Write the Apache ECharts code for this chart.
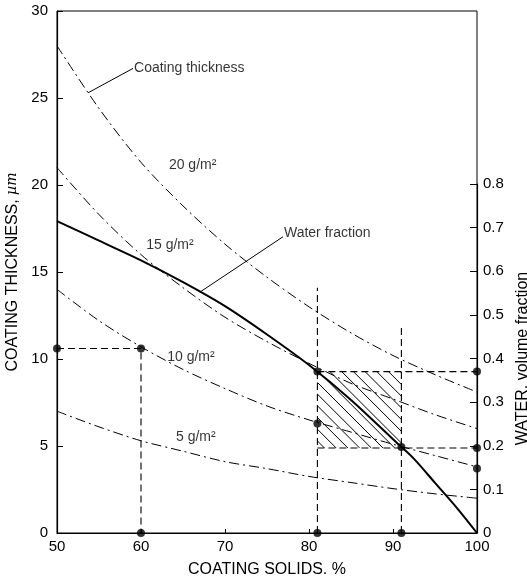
<!DOCTYPE html>
<html><head><meta charset="utf-8">
<script src="https://cdn.jsdelivr.net/npm/echarts@6/dist/echarts.min.js"></script>
<style>html,body{margin:0;padding:0;background:#fff}#c{width:527px;height:582px}</style>
</head><body><div id="c"></div>
<script>
// ---- data ----
const solids = [50, 55, 60, 65, 70, 75, 80, 85, 90, 95, 100];
const thick20 = [28, 24.4, 21.3, 18.8, 16.6, 14.7, 13.0, 11.5, 10.2, 9.1, 8.1];
const thick15 = [21, 18.3, 16.0, 14.1, 12.4, 11.0, 9.75, 8.6, 7.7, 6.8, 6.0];
const thick10 = [14, 12.2, 10.7, 9.4, 8.3, 7.3, 6.5, 5.8, 5.1, 4.45, 3.8];
const thick5 = [7, 6.1, 5.3, 4.7, 4.1, 3.7, 3.25, 2.9, 2.55, 2.25, 2.0];

const waterSolids = [50, 55, 60, 65, 70, 75, 80, 85, 90, 92.5, 95, 97.5, 100];
const waterFrac = [0.715, 0.67, 0.625, 0.575, 0.52, 0.455, 0.385, 0.305, 0.215, 0.17, 0.115, 0.06, 0];

const xTicks = [50, 60, 70, 80, 90, 100];
const leftTicks = [0, 5, 10, 15, 20, 25, 30];
const rightTicks = [0, 0.1, 0.2, 0.3, 0.4, 0.5, 0.6, 0.7, 0.8];

// guide (dashed) lines
const guide60 = [[50, 10.6], [60, 10.6], [60, 0]];          // thickness axis
const guide81 = [[81, 0], [81, 14.1]];                       // thickness axis
const guide91 = [[91, 0], [91, 11.8]];                       // thickness axis
const guideWaterHigh = [[81, 0.37], [100, 0.37]];           // water axis
const guideWaterLow = [[81, 0.195], [100, 0.195]];          // water axis
const hatchBox = [81, 91, 0.195, 0.37];                      // x0, x1, y0, y1 (water axis)

// marker dots
const dotsThick = [[50, 10.6], [60, 10.6], [60, 0], [81, 0], [91, 0], [81, 6.3]];
const dotsWater = [[81, 0.37], [91, 0.197], [100, 0.37], [100, 0.195], [100, 0.148]];

// annotations
const curveLabels = ['20 g/m²', '15 g/m²', '10 g/m²', '5 g/m²'];
const curveLabelAt = [[63.2, 21.15], [60.5, 16.55], [63.0, 10.1], [64.05, 5.5]];
const thickLabel = 'Coating thickness';
const thickLeader = [[53.7, 25.3], [59.05, 26.7]];
const waterLabel = 'Water fraction';
const waterLeader = [[67.0, 0.552], [76.9, 0.679]];

// ---- chart ----
const FONT = "'Liberation Sans', Arial, Helvetica, sans-serif";
const zip = (xs, ys) => xs.map((x, i) => [x, ys[i]]);
const dashDot = [10, 4, 2, 4];
const dashed = [7, 4];

const curveSeries = (d) => ({
  type: 'line', xAxisIndex: 0, yAxisIndex: 0, data: zip(solids, d),
  smooth: 0.3, symbol: 'none', silent: true,
  lineStyle: { color: '#000', width: 1, type: dashDot }
});
const guideSeries = (d, ax) => ({
  type: 'line', xAxisIndex: ax, yAxisIndex: ax, data: d, symbol: 'none', silent: true, clip: false,
  lineStyle: { color: '#000', width: 1.1, type: dashed }
});

const chart = echarts.init(document.getElementById('c'), null, { renderer: 'canvas' });
chart.setOption({
  animation: false,
  backgroundColor: '#fff',
  textStyle: { fontFamily: FONT, color: '#000' },
  grid: [
    { left: 57, right: 50, top: 11, bottom: 49, show: true, borderColor: '#000', borderWidth: 1, containLabel: false, outerBoundsMode: 'none' },
    { left: 57, right: 50, top: 184, bottom: 49, containLabel: false, outerBoundsMode: 'none' }
  ],
  xAxis: [
    { type: 'value', gridIndex: 0, min: 50, max: 100, interval: 10,
      name: 'COATING SOLIDS. %', nameLocation: 'middle', nameGap: 29,
      nameTextStyle: { fontSize: 16, color: '#000', fontFamily: FONT },
      axisLine: { lineStyle: { color: '#000', width: 1.2 } },
      axisTick: { inside: true, length: 4, lineStyle: { color: '#000' } },
      axisLabel: { fontSize: 15, color: '#000', margin: 6, fontFamily: FONT },
      splitLine: { show: false } },
    { type: 'value', gridIndex: 1, min: 50, max: 100, show: false }
  ],
  yAxis: [
    { type: 'value', gridIndex: 0, min: 0, max: 30, interval: 5,
      name: 'COATING THICKNESS, {i|µm}', nameLocation: 'middle', nameGap: 29, nameRotate: 90,
      nameTextStyle: { fontSize: 16, color: '#000', fontFamily: FONT,
        rich: { i: { fontSize: 14, fontStyle: 'italic', fontFamily: "'DejaVu Serif', serif", color: '#000' } } },
      axisLine: { show: true, lineStyle: { color: '#000', width: 1.2 } },
      axisTick: { show: true, inside: true, length: 6, lineStyle: { color: '#000' } },
      axisLabel: { fontSize: 15, color: '#000', margin: 9, fontFamily: FONT },
      splitLine: { show: false } },
    { type: 'value', gridIndex: 1, position: 'right', min: 0, max: 0.8, interval: 0.1,
      name: 'WATER, volume fraction', nameLocation: 'middle', nameGap: 31, nameRotate: 90,
      nameTextStyle: { fontSize: 16, color: '#000', fontFamily: FONT },
      axisLine: { show: true, lineStyle: { color: '#000', width: 1.2 } },
      axisTick: { show: true, inside: true, length: 7, lineStyle: { color: '#000' } },
      axisLabel: { fontSize: 15, color: '#000', margin: 6, fontFamily: FONT,
        formatter: v => (v === 0 ? '0' : v.toFixed(1)) },
      splitLine: { show: false } }
  ],
  series: [
    curveSeries(thick20), curveSeries(thick15), curveSeries(thick10), curveSeries(thick5),
    { type: 'custom', xAxisIndex: 1, yAxisIndex: 1, silent: true, clip: false,
      data: [hatchBox],
      renderItem: (params, api) => {
        const tl = api.coord([api.value(0), api.value(3)]);
        const br = api.coord([api.value(1), api.value(2)]);
        const L = tl[0], T = tl[1], R = br[0], B = br[1];
        const step = 11.7;
        const children = [];
        for (let k = L - B + step * 0.6; k < R - T; k += step) {
          const xa = Math.max(L, T + k), xb = Math.min(R, B + k);
          if (xb > xa) children.push({ type: 'line', shape: { x1: xa, y1: xa - k, x2: xb, y2: xb - k },
            style: { stroke: '#000', lineWidth: 1 } });
        }
        return { type: 'group', children };
      } },
    { type: 'line', xAxisIndex: 1, yAxisIndex: 1, data: zip(waterSolids, waterFrac),
      smooth: 0.3, symbol: 'none', silent: true,
      lineStyle: { color: '#000', width: 2 } },
    guideSeries(guide60, 0), guideSeries(guide81, 0), guideSeries(guide91, 0),
    guideSeries(guideWaterHigh, 1), guideSeries(guideWaterLow, 1),
    { type: 'line', xAxisIndex: 0, yAxisIndex: 0, data: thickLeader, symbol: 'none', silent: true,
      lineStyle: { color: '#000', width: 1 } },
    { type: 'line', xAxisIndex: 1, yAxisIndex: 1, data: waterLeader, symbol: 'none', silent: true,
      lineStyle: { color: '#000', width: 1 } },
    { type: 'scatter', xAxisIndex: 0, yAxisIndex: 0, data: dotsThick, symbolSize: 8, clip: false, silent: true,
      itemStyle: { color: '#000' } },
    { type: 'scatter', xAxisIndex: 1, yAxisIndex: 1, data: dotsWater, symbolSize: 8, clip: false, silent: true,
      itemStyle: { color: '#000' } },
    { type: 'scatter', xAxisIndex: 0, yAxisIndex: 0, symbolSize: 0, silent: true, clip: false,
      data: curveLabels.map((t, i) => ({ name: t, value: curveLabelAt[i] }))
        .concat([{ name: thickLabel, value: thickLeader[1] }]),
      label: { show: true, position: [0, 0], align: 'left', verticalAlign: 'middle', formatter: '{b}',
        fontSize: 14, color: '#000', fontFamily: FONT, padding: [0, 0, 0, 1] } },
    { type: 'scatter', xAxisIndex: 1, yAxisIndex: 1, symbolSize: 0, silent: true, clip: false,
      data: [{ name: waterLabel, value: waterLeader[1] }],
      label: { show: true, position: [0, 0], align: 'left', verticalAlign: 'bottom', formatter: '{b}',
        fontSize: 14, color: '#000', fontFamily: FONT, padding: [0, 0, -3, 1] } }
  ]
});
</script>
</body></html>
